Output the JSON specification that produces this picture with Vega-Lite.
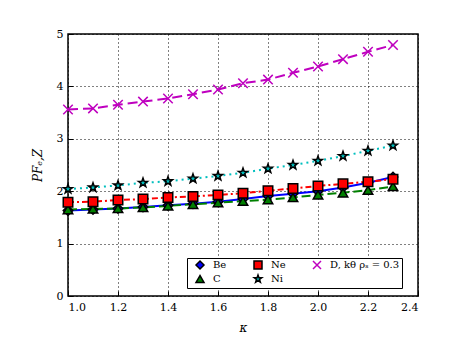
{
  "$schema": "https://vega.github.io/schema/vega-lite/v6.json",
  "autosize": {"type": "none"},
  "width": 350,
  "height": 262,
  "padding": {"left": 68, "top": 34, "right": 48, "bottom": 53},
  "background": "white",
  "config": {
    "font": "DejaVu Serif",
    "view": {"stroke": "black", "strokeWidth": 1.5},
    "axis": {
      "grid": true, "gridColor": "black", "gridDash": [1, 3], "gridOpacity": 1, "gridWidth": 1,
      "domain": false, "tickColor": "black", "tickSize": -5, "tickWidth": 1,
      "labelFont": "DejaVu Serif", "labelFontSize": 11, "labelColor": "black",
      "titleFont": "DejaVu Serif", "titleFontSize": 12, "titleFontWeight": "normal", "titleFontStyle": "italic", "titleColor": "black"
    },
    "legend": {
      "orient": "none", "legendX": 119, "legendY": 224, "direction": "horizontal", "columns": 3,
      "strokeColor": "black", "fillColor": "white", "padding": 2, "columnPadding": 20, "rowPadding": 0,
      "labelFont": "DejaVu Serif", "labelFontSize": 10, "labelColor": "black", "labelOffset": 8, "symbolSize": 64, "symbolStrokeWidth": 1.5,
      "symbolOffset": 6
    }
  },
  "data": {"values": [
    {"k":1.0,"s":"Be","v":1.63},{"k":1.1,"s":"Be","v":1.65},{"k":1.2,"s":"Be","v":1.67},{"k":1.3,"s":"Be","v":1.70},{"k":1.4,"s":"Be","v":1.73},{"k":1.5,"s":"Be","v":1.76},{"k":1.6,"s":"Be","v":1.80},{"k":1.7,"s":"Be","v":1.85},{"k":1.8,"s":"Be","v":1.91},{"k":1.9,"s":"Be","v":1.95},{"k":2.0,"s":"Be","v":2.00},{"k":2.1,"s":"Be","v":2.07},{"k":2.2,"s":"Be","v":2.16},{"k":2.3,"s":"Be","v":2.27},
    {"k":1.0,"s":"C","v":1.65},{"k":1.1,"s":"C","v":1.66},{"k":1.2,"s":"C","v":1.67},{"k":1.3,"s":"C","v":1.69},{"k":1.4,"s":"C","v":1.72},{"k":1.5,"s":"C","v":1.75},{"k":1.6,"s":"C","v":1.78},{"k":1.7,"s":"C","v":1.81},{"k":1.8,"s":"C","v":1.84},{"k":1.9,"s":"C","v":1.88},{"k":2.0,"s":"C","v":1.93},{"k":2.1,"s":"C","v":1.97},{"k":2.2,"s":"C","v":2.02},{"k":2.3,"s":"C","v":2.09},
    {"k":1.0,"s":"Ne","v":1.79},{"k":1.1,"s":"Ne","v":1.80},{"k":1.2,"s":"Ne","v":1.83},{"k":1.3,"s":"Ne","v":1.85},{"k":1.4,"s":"Ne","v":1.88},{"k":1.5,"s":"Ne","v":1.90},{"k":1.6,"s":"Ne","v":1.93},{"k":1.7,"s":"Ne","v":1.96},{"k":1.8,"s":"Ne","v":2.01},{"k":1.9,"s":"Ne","v":2.05},{"k":2.0,"s":"Ne","v":2.10},{"k":2.1,"s":"Ne","v":2.14},{"k":2.2,"s":"Ne","v":2.18},{"k":2.3,"s":"Ne","v":2.23},
    {"k":1.0,"s":"Ni","v":2.04},{"k":1.1,"s":"Ni","v":2.07},{"k":1.2,"s":"Ni","v":2.11},{"k":1.3,"s":"Ni","v":2.16},{"k":1.4,"s":"Ni","v":2.19},{"k":1.5,"s":"Ni","v":2.24},{"k":1.6,"s":"Ni","v":2.29},{"k":1.7,"s":"Ni","v":2.35},{"k":1.8,"s":"Ni","v":2.43},{"k":1.9,"s":"Ni","v":2.50},{"k":2.0,"s":"Ni","v":2.58},{"k":2.1,"s":"Ni","v":2.67},{"k":2.2,"s":"Ni","v":2.77},{"k":2.3,"s":"Ni","v":2.87},
    {"k":1.0,"s":"D, kθ ρₛ = 0.3","v":3.56},{"k":1.1,"s":"D, kθ ρₛ = 0.3","v":3.58},{"k":1.2,"s":"D, kθ ρₛ = 0.3","v":3.65},{"k":1.3,"s":"D, kθ ρₛ = 0.3","v":3.71},{"k":1.4,"s":"D, kθ ρₛ = 0.3","v":3.77},{"k":1.5,"s":"D, kθ ρₛ = 0.3","v":3.85},{"k":1.6,"s":"D, kθ ρₛ = 0.3","v":3.94},{"k":1.7,"s":"D, kθ ρₛ = 0.3","v":4.06},{"k":1.8,"s":"D, kθ ρₛ = 0.3","v":4.13},{"k":1.9,"s":"D, kθ ρₛ = 0.3","v":4.26},{"k":2.0,"s":"D, kθ ρₛ = 0.3","v":4.38},{"k":2.1,"s":"D, kθ ρₛ = 0.3","v":4.52},{"k":2.2,"s":"D, kθ ρₛ = 0.3","v":4.66},{"k":2.3,"s":"D, kθ ρₛ = 0.3","v":4.79}
  ]},
  "encoding": {
    "x": {"field": "k", "type": "quantitative", "title": "κ",
      "scale": {"domain": [1.0, 2.4], "nice": false, "zero": false},
      "axis": {"values": [1.0,1.2,1.4,1.6,1.8,2.0,2.2,2.4], "format": ".1f", "labelPadding": 10, "titlePadding": 10}},
    "y": {"field": "v", "type": "quantitative", "title": "PFₑ,Z",
      "scale": {"domain": [0, 5], "nice": false},
      "axis": {"values": [0,1,2,3,4,5], "format": "d", "labelPadding": 10, "titlePadding": 12}}
  },
  "layer": [
    {"transform": [{"filter": "datum.s === 'Be'"}], "mark": {"type": "line", "strokeWidth": 2, "color": "#0000ff"}, "encoding": {}},
    {"transform": [{"filter": "datum.s === 'C'"}], "mark": {"type": "line", "strokeWidth": 2, "color": "#008000", "strokeDash": [9, 4]}, "encoding": {}},
    {"transform": [{"filter": "datum.s === 'Ne'"}], "mark": {"type": "line", "strokeWidth": 2, "color": "#ff0000", "strokeDash": [6, 3, 2, 3]}, "encoding": {}},
    {"transform": [{"filter": "datum.s === 'Ni'"}], "mark": {"type": "line", "strokeWidth": 2, "color": "#00bfbf", "strokeDash": [2, 4]}, "encoding": {}},
    {"transform": [{"filter": "datum.s[0] === 'D'"}], "mark": {"type": "line", "strokeWidth": 2, "color": "#bf00bf", "strokeDash": [10, 5]}, "encoding": {}},
    {
      "mark": {"type": "point", "filled": true, "opacity": 1, "strokeWidth": 1.5},
      "encoding": {
        "shape": {"field": "s", "type": "nominal",
          "scale": {"domain": ["Be","Ne","D, kθ ρₛ = 0.3","C","Ni"],
            "range": ["diamond","square","M-1,-1L1,1M-1,1L1,-1","triangle-up","M0,-1L0.235,-0.324L0.951,-0.309L0.38,0.124L0.588,0.809L0,0.4L-0.588,0.809L-0.38,0.124L-0.951,-0.309L-0.235,-0.324Z"]},
          "legend": {"title": null, "labelFont": "DejaVu Serif"}},
        "fill": {"field": "s", "type": "nominal",
          "scale": {"domain": ["Be","Ne","D, kθ ρₛ = 0.3","C","Ni"], "range": ["#0000ff","#ff0000","#bf00bf","#008000","#00bfbf"]},
          "legend": {"title": null, "labelFont": "DejaVu Serif"}},
        "stroke": {"field": "s", "type": "nominal",
          "scale": {"domain": ["Be","Ne","D, kθ ρₛ = 0.3","C","Ni"], "range": ["black","black","#bf00bf","black","black"]},
          "legend": {"title": null, "labelFont": "DejaVu Serif"}},
        "size": {"value": 90}
      }
    }
  ]
}
